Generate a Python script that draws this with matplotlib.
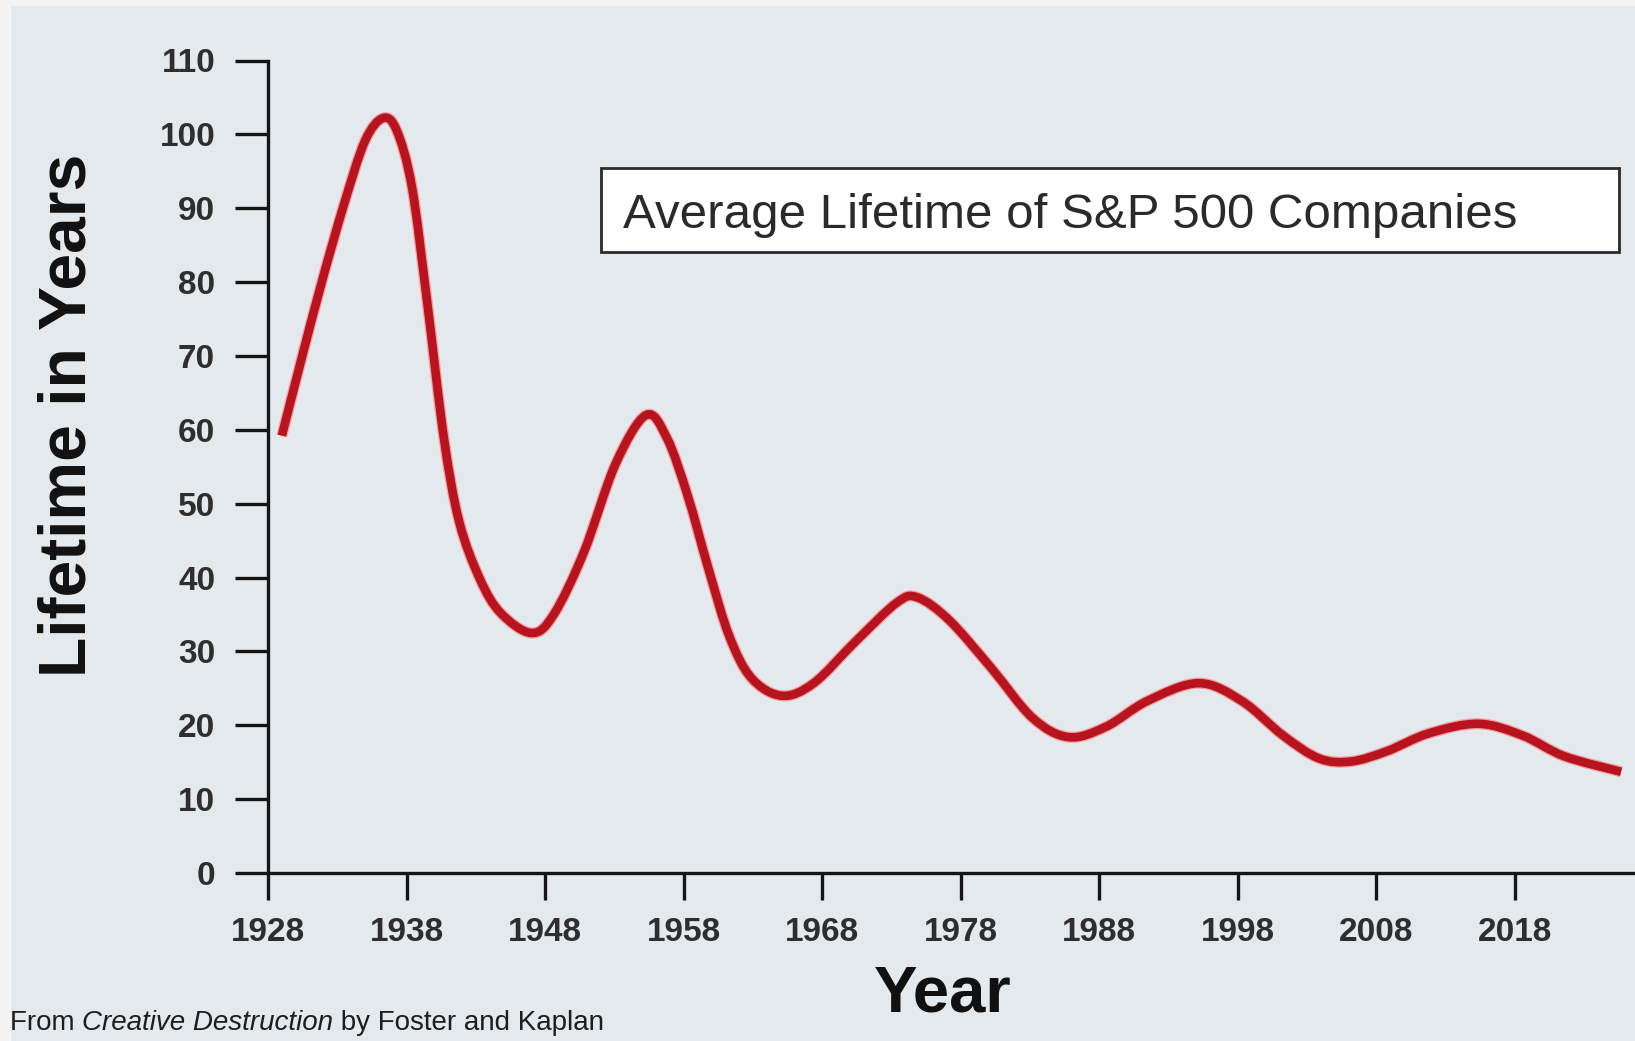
import matplotlib
matplotlib.use("Agg")
import matplotlib.pyplot as plt
import matplotlib.patches as mpatches
import matplotlib.patheffects as pe
from matplotlib.path import Path

# ---- data ----
years = [1929.0, 1930.5, 1932.0, 1933.5, 1935.0, 1936.3, 1937.3, 1938.4, 1939.5,
         1940.7, 1941.8, 1943.3, 1944.8, 1947.0, 1948.6, 1950.8, 1953.1, 1955.3,
         1956.8, 1958.3, 1959.8, 1961.3, 1962.9, 1965.1, 1967.4, 1970.4, 1973.4,
         1974.9, 1977.2, 1980.2, 1983.2, 1985.8, 1988.5, 1991.5, 1995.2, 1998.3,
         2001.3, 2003.9, 2006.2, 2008.8, 2011.8, 2015.4, 2018.6, 2021.6, 2025.7]
lifetime = [59.2, 70.2, 80.8, 90.6, 99.1, 102.2, 100.5, 92.8, 77.2,
            58.9, 47.6, 39.8, 35.2, 32.5, 34.9, 43.4, 55.4, 62.0,
            58.9, 51.1, 41.2, 32.1, 26.4, 24.0, 25.7, 31.3, 36.6,
            37.3, 34.2, 27.8, 21.0, 18.4, 19.8, 23.3, 25.7, 23.3,
            18.6, 15.5, 15.1, 16.5, 18.9, 20.2, 18.6, 15.8, 13.7]
xticks = [1928, 1938, 1948, 1958, 1968, 1978, 1988, 1998, 2008, 2018]
yticks = [0, 10, 20, 30, 40, 50, 60, 70, 80, 90, 100, 110]

title_text = "Average Lifetime of S&P 500 Companies"
ylabel_text = "Lifetime in Years"
xlabel_text = "Year"

W, H = 1635, 1041
fig = plt.figure(figsize=(W / 100, H / 100), dpi=100)
fig.patch.set_facecolor("#f4f4f4")
bg = "#e3e9ec"
fig.patches.append(mpatches.Rectangle((11 / W, 0), 1 - 11 / W, 1 - 6 / H,
                                      transform=fig.transFigure, facecolor=bg,
                                      edgecolor="none", zorder=-10))

font = "Liberation Sans"
ax = fig.add_axes([268 / W, 1 - 873 / H, 1 - 268 / W, (873 - 60.5) / H])
ax.patch.set_visible(False)


def smooth_path(xs, ys):
    """Catmull-Rom spline through the data points, as cubic Bezier segments."""
    n = len(xs)
    verts = [(xs[0], ys[0])]
    codes = [Path.MOVETO]
    for i in range(n - 1):
        x0, y0 = (xs[i - 1], ys[i - 1]) if i > 0 else (xs[i], ys[i])
        x1, y1 = xs[i], ys[i]
        x2, y2 = xs[i + 1], ys[i + 1]
        x3, y3 = (xs[i + 2], ys[i + 2]) if i + 2 < n else (x2, y2)
        c1 = (x1 + (x2 - x0) / 6.0, y1 + (y2 - y0) / 6.0)
        c2 = (x2 - (x3 - x1) / 6.0, y2 - (y3 - y1) / 6.0)
        verts += [c1, c2, (x2, y2)]
        codes += [Path.CURVE4] * 3
    return Path(verts, codes)


curve = mpatches.PathPatch(smooth_path(years, lifetime), facecolor="none",
                           edgecolor="#b8141f", lw=6.2, capstyle="butt",
                           joinstyle="round", transform=ax.transData, clip_on=False,
                           path_effects=[pe.Stroke(linewidth=8.0, foreground="#f2a0a0"),
                                         pe.Normal()])
ax.add_patch(curve)

ax.set_xlim(1928, 2026.7)
ax.set_ylim(0, 110)
for s in ["top", "right"]:
    ax.spines[s].set_visible(False)
for s in ["left", "bottom"]:
    ax.spines[s].set_linewidth(2.4)
    ax.spines[s].set_color("#151515")

ax.set_xticks(xticks)
ax.set_yticks(yticks)
ax.tick_params(axis="both", direction="out", width=2.4, color="#151515")
ax.tick_params(axis="y", length=24, pad=14)
ax.tick_params(axis="x", length=19.5, pad=12)
for lab in ax.get_xticklabels() + ax.get_yticklabels():
    lab.set_fontfamily(font)
    lab.set_fontweight("bold")
    lab.set_fontsize(24)
    lab.set_color("#2e2e2e")

# axis labels
fig.text(68 / W, 1 - 415 / H, ylabel_text, rotation=90, ha="center", va="center",
         fontsize=47.5, fontweight="bold", family=font, color="#111111")
fig.text(943 / W, 1 - 995 / H, xlabel_text, ha="center", va="center",
         fontsize=47, fontweight="bold", family=font, color="#111111")

# title box
fig.patches.append(mpatches.Rectangle((601 / W, 1 - 252 / H), (1619 - 601) / W, (252 - 168) / H,
                                      transform=fig.transFigure, facecolor="white",
                                      edgecolor="#2a2a2a", linewidth=2.0, zorder=5))
fig.text(623 / W, 1 - 215 / H, title_text, ha="left", va="center",
         fontsize=35.5, family=font, color="#2a2a2a", zorder=6)

# footnote with mixed styles
parts = [("From ", "normal"), ("Creative Destruction", "italic"),
         (" by Foster and Kaplan", "normal")]
renderer = fig.canvas.get_renderer()
x = 10
for txt, style in parts:
    t = fig.text(x / W, 1 - 1030 / H, txt, ha="left", va="baseline", fontsize=20,
                 family=font, style=style, color="#1e1e1e")
    x = t.get_window_extent(renderer=renderer).x1

fig.savefig("out.png", dpi=100, facecolor=fig.get_facecolor())
